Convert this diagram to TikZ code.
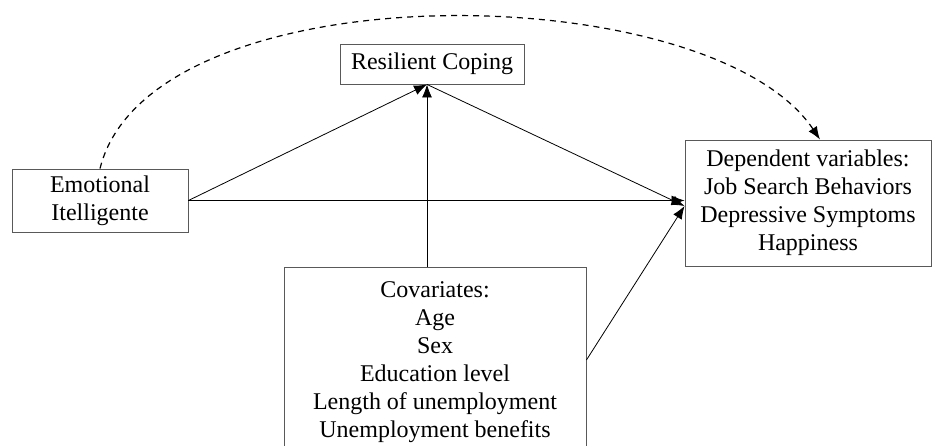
\documentclass[tikz,border=0pt]{standalone}
\usepackage{fontspec}
\setmainfont{Liberation Serif}
\usepackage{tikz}
\usetikzlibrary{positioning}
\usetikzlibrary{arrows.meta,calc}

\begin{document}
\begin{tikzpicture}[
      x=1pt, y=-1pt,
      varbox/.style={draw=black!65, line width=0.9pt, align=center, inner sep=0pt,
                     font=\fontsize{24}{28}\selectfont},
      arr/.style={-{Latex[length=13pt,width=10pt]}, line width=0.8pt},
      dasharr/.style={arr, line width=1.2pt, dash pattern=on 6pt off 5pt}
      ]
      \useasboundingbox (0,0) rectangle (932,446);

      \node[varbox, minimum width=184pt, minimum height=40pt] (rc) at (432,64) {Resilient Coping};
      \node[varbox, minimum width=176pt, minimum height=63pt] (ei) at (100,200.5) {Emotional\\Itelligente};
      \node[varbox, minimum width=246pt, minimum height=126pt] (dv) at (808,203)
            {Dependent variables:\\Job Search Behaviors\\Depressive Symptoms\\Happiness};
      \node[varbox, minimum width=302pt, minimum height=186pt, text depth=0pt] (cov) at (435,360)
            {Covariates:\\Age\\Sex\\Education level\\Length of unemployment\\Unemployment benefits};

      \coordinate (rcin) at ([xshift=-5pt]rc.south);
      \coordinate (dvin) at ([yshift=-3pt]dv.west);

      \path (ei.east) edge[arr] (rcin)
      (cov.north -| rcin) edge[arr] (rcin)
      (rcin) edge[arr] (dvin)
      (ei.east) edge[arr] (ei.east -| dvin)
      (cov.east) edge[arr] (dvin)
      ;
      \draw[dasharr] (ei.north) .. controls (150,-32) and (710,-25) .. ([xshift=12pt]dv.north);
    \end{tikzpicture}
\end{document}
